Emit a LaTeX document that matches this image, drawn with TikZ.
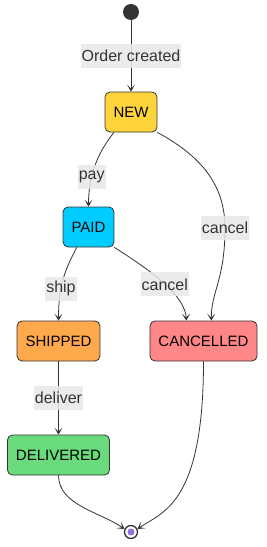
\documentclass[tikz,border=0pt]{standalone}
\usepackage{fontspec}
\setmainfont{Liberation Sans}
\usepackage{xcolor}
\usetikzlibrary{arrows.meta, positioning}

\definecolor{edgegray}{HTML}{333333}
\definecolor{txtgray}{HTML}{333333}
\definecolor{lblgray}{HTML}{E8E8E8}
\definecolor{newfill}{HTML}{FFD43B}
\definecolor{paidfill}{HTML}{00CCFF}
\definecolor{shipfill}{HTML}{FFA94D}
\definecolor{cancelfill}{HTML}{FF8787}
\definecolor{delivfill}{HTML}{69DB7C}
\definecolor{endfill}{HTML}{9370DB}

\tikzset{
    statebox/.style={draw=edgegray, line width=0.8pt, rounded corners=5pt,
        minimum height=40pt, inner xsep=8.5pt, inner ysep=0pt,
        font=\fontsize{15}{18}\selectfont},
    lbl/.style={fill=lblgray, fill opacity=0.85, text opacity=1, text=txtgray,
        inner xsep=1pt, inner ysep=0pt, minimum height=24pt,
        font=\fontsize{16}{19}\selectfont},
    arr/.style={draw=edgegray, line width=0.8pt,
        -{Stealth[length=7pt, width=8pt, inset=4pt]}}
}

\begin{document}
\begin{tikzpicture}[x=1pt, y=-1pt]
        \useasboundingbox (0,0) rectangle (266,547);

        % Start and end states
        \node[circle, fill=edgegray, minimum size=16pt, inner sep=0pt] (start) at (131,12) {};
        \node[circle, draw=edgegray, line width=1.3pt, fill=white, minimum size=13pt, inner sep=0pt] (end) at (131,532) {};
        \fill[endfill] (end) circle (3.5);

        % States
        \node[statebox, fill=newfill] (new) at (131,112) {NEW};
        \node[statebox, fill=paidfill] (paid) at (88.5,227) {PAID};
        \node[statebox, fill=shipfill] (shipped) at (58.5,341) {SHIPPED};
        \node[statebox, fill=cancelfill] (cancelled) at (203.5,341) {CANCELLED};
        \node[statebox, fill=delivfill] (delivered) at (58.5,455) {DELIVERED};

        % Transitions
        \draw[arr] (start) -- (new) node[lbl, midway] {Order created};
        \draw[arr] (new.230) .. controls (100,150) and (88.5,172) .. (paid.north)
            node[lbl, pos=0.68] {pay};
        \draw[arr] (new.south east) .. controls (195,153) and (225,180) .. (225,228)
            node[lbl] {cancel}
            .. controls (225,280) and (211,292) .. (cancelled.69);
        \draw[arr] (paid.240) .. controls (65,270) and (58.5,285) .. (shipped.north)
            node[lbl, pos=0.64] {ship};
        \draw[arr] (paid.south east) .. controls (150,270) and (185,295) .. (cancelled.130)
            node[lbl, pos=0.52] {cancel};
        \draw[arr] (shipped) -- (delivered) node[lbl, midway] {deliver};

        % Final transitions
        \draw[arr] (delivered.south) .. controls (58.5,505) and (100,512) .. (end.155);
        \draw[arr] (cancelled.south) .. controls (203.5,505) and (162,512) .. (end.25);

\end{tikzpicture}
\end{document}
